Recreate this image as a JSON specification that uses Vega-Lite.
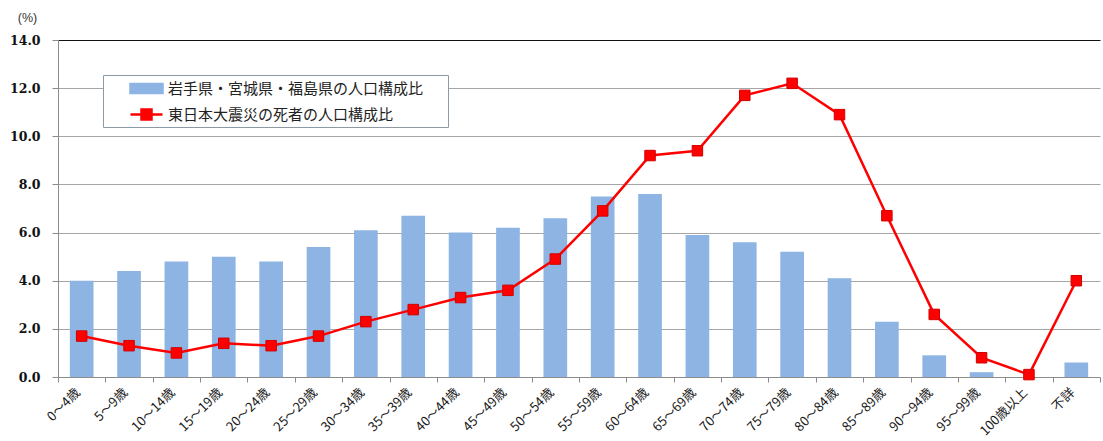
{
  "$schema": "https://vega.github.io/schema/vega-lite/v6.json",
  "width": 1042,
  "height": 337,
  "autosize": {"type": "none"},
  "padding": {"left": 58, "top": 40, "right": 3, "bottom": 64},
  "background": "white",
  "config": {
    "view": {"stroke": null},
    "font": "Noto Sans CJK JP"
  },
  "data": {
    "values": [
      {"age": "0〜4歳", "pop": 4.0, "dead": 1.7},
      {"age": "5〜9歳", "pop": 4.4, "dead": 1.3},
      {"age": "10〜14歳", "pop": 4.8, "dead": 1.0},
      {"age": "15〜19歳", "pop": 5.0, "dead": 1.4},
      {"age": "20〜24歳", "pop": 4.8, "dead": 1.3},
      {"age": "25〜29歳", "pop": 5.4, "dead": 1.7},
      {"age": "30〜34歳", "pop": 6.1, "dead": 2.3},
      {"age": "35〜39歳", "pop": 6.7, "dead": 2.8},
      {"age": "40〜44歳", "pop": 6.0, "dead": 3.3},
      {"age": "45〜49歳", "pop": 6.2, "dead": 3.6},
      {"age": "50〜54歳", "pop": 6.6, "dead": 4.9},
      {"age": "55〜59歳", "pop": 7.5, "dead": 6.9},
      {"age": "60〜64歳", "pop": 7.6, "dead": 9.2},
      {"age": "65〜69歳", "pop": 5.9, "dead": 9.4},
      {"age": "70〜74歳", "pop": 5.6, "dead": 11.7},
      {"age": "75〜79歳", "pop": 5.2, "dead": 12.2},
      {"age": "80〜84歳", "pop": 4.1, "dead": 10.9},
      {"age": "85〜89歳", "pop": 2.3, "dead": 6.7},
      {"age": "90〜94歳", "pop": 0.9, "dead": 2.6},
      {"age": "95〜99歳", "pop": 0.2, "dead": 0.8},
      {"age": "100歳以上", "pop": 0.0, "dead": 0.1},
      {"age": "不詳", "pop": 0.6, "dead": 4.0}
    ]
  },
  "encoding": {
    "x": {
      "field": "age",
      "type": "nominal",
      "sort": null,
      "scale": {"paddingInner": 0, "paddingOuter": 0},
      "axis": {
        "title": null,
        "labelAngle": -45,
        "labelAlign": "right",
        "labelBaseline": "middle",
        "labelFont": "Noto Sans CJK JP",
        "labelFontSize": 13,
        "labelColor": "#1a1a1a",
        "labelPadding": 8,
        "labelOffset": -4,
        "tickBand": "extent",
        "tickSize": 5,
        "tickColor": "#8c8c8c",
        "domainColor": "#8c8c8c",
        "grid": false
      }
    }
  },
  "layer": [
    {
      "mark": {"type": "bar", "width": {"band": 0.5}, "color": "#8DB4E2"},
      "encoding": {
        "y": {
          "field": "pop",
          "type": "quantitative",
          "scale": {"domain": [0, 14], "nice": false},
          "axis": {
            "title": "(%)",
            "titleAngle": 0,
            "titleX": -31,
            "titleY": -23,
            "titleBaseline": "middle",
            "titleFont": "Liberation Sans",
            "titleFontWeight": "normal",
            "titleFontSize": 12.5,
            "titleColor": "#333",
            "titleAlign": "center",
            "values": [0, 2, 4, 6, 8, 10, 12, 14],
            "format": ".1f",
            "labelFont": "DejaVu Serif",
            "labelFontWeight": "bold",
            "labelFontSize": 12.5,
            "labelColor": "#111",
            "labelPadding": 12,
            "tickSize": 6,
            "tickColor": "#8c8c8c",
            "domainColor": "#8c8c8c",
            "gridColor": {"condition": {"test": "datum.value === 14", "value": "#111"}, "value": "#a6a6a6"},
            "gridWidth": 1
          }
        },
        "color": {
          "datum": "岩手県・宮城県・福島県の人口構成比",
          "type": "nominal",
          "scale": {
            "domain": ["岩手県・宮城県・福島県の人口構成比", "東日本大震災の死者の人口構成比"],
            "range": ["#8DB4E2", "#FF0000"]
          },
          "legend": {
            "title": null,
            "orient": "none",
            "legendX": 45,
            "legendY": 35,
            "padding": 2,
            "strokeColor": "#8c9aa6",
            "fillColor": "white",
            "symbolSize": 400,
            "symbolOffset": 30,
            "labelOffset": 10,
            "rowPadding": 5,
            "labelFont": "Noto Sans CJK JP",
            "labelFontSize": 15,
            "labelColor": "#222",
            "labelLimit": 400,
            "labelExpr": "datum.label + '\u2800\u2800'",
            "encode": {
              "symbols": {
                "update": {
                  "shape": {"signal": "datum.value === '岩手県・宮城県・福島県の人口構成比' ? 'M-1.6,-0.45H1.6V0.45H-1.6Z' : 'M-1.6,0H1.6M-0.5,-0.5H0.5V0.5H-0.5Z'"},
                  "fill": {"signal": "datum.value === '岩手県・宮城県・福島県の人口構成比' ? '#8DB4E2' : '#FF0000'"},
                  "stroke": {"signal": "datum.value === '岩手県・宮城県・福島県の人口構成比' ? null : '#E0101A'"},
                  "strokeWidth": {"value": 2.5},
                  "opacity": {"value": 1}
                }
              }
            }
          }
        }
      }
    },
    {
      "mark": {"type": "line", "strokeWidth": 2.5, "color": "#E0101A"},
      "encoding": {
        "y": {"field": "dead", "type": "quantitative"},
        "color": {"datum": "東日本大震災の死者の人口構成比", "type": "nominal"}
      }
    },
    {
      "mark": {"type": "point", "shape": "square", "filled": true, "size": 110, "opacity": 1, "stroke": "#D00000", "strokeWidth": 1},
      "encoding": {
        "y": {"field": "dead", "type": "quantitative"},
        "color": {"datum": "東日本大震災の死者の人口構成比", "type": "nominal"}
      }
    }
  ]
}
